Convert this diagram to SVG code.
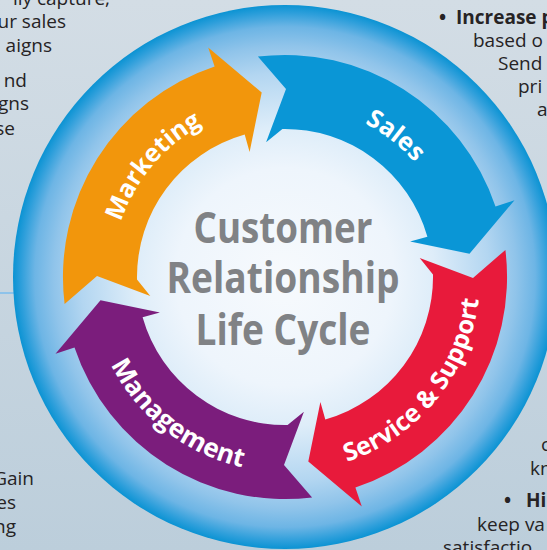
<svg xmlns="http://www.w3.org/2000/svg" xmlns:xlink="http://www.w3.org/1999/xlink" width="547" height="550" viewBox="0 0 547 550">
<defs>
<linearGradient id="bg" x1="0" y1="0" x2="0" y2="1">
<stop offset="0" stop-color="#d3dde5"/>
<stop offset="1" stop-color="#bccedb"/>
</linearGradient>
<radialGradient id="disk" cx="285" cy="277" r="272" gradientUnits="userSpaceOnUse">
<stop offset="0" stop-color="#f7fafd"/>
<stop offset="0.4" stop-color="#eef5fc"/>
<stop offset="0.55" stop-color="#deedf9"/>
<stop offset="0.75" stop-color="#b3d6f1"/>
<stop offset="0.85" stop-color="#90c4ea"/>
<stop offset="0.92" stop-color="#6db5e5"/>
<stop offset="0.97" stop-color="#2e9fdb"/>
<stop offset="1" stop-color="#0b93d3"/>
</radialGradient>
<path id="arrowShape" d="M257.9,56.6 L286.0,89.0 L266.1,142.3 L282.4,129.0 A148,148 0 0 1 427.4,236.7 L410.1,241.6 L469.5,253.7 L514.5,200.2 L495.5,206.6 A222,222 0 0 0 257.9,56.6 Z"/>
<path id="tpMarketing" d="M135.18,363.5 A173,173 0 0 1 344.17,114.43"/>
<path id="tpSales" d="M180.89,138.84 A173,173 0 0 1 444.25,344.6"/>
<path id="tpService" d="M205.69,455.14 A195,195 0 0 0 442.76,162.38"/>
<path id="tpManagement" d="M105.5,200.81 A195,195 0 0 0 402.35,432.73"/>
</defs>
<style>
.side{font-family:"Open Sans","Noto Sans",sans-serif;font-size:19px;fill:#262324;}
.sideb{font-family:"Open Sans","Noto Sans",sans-serif;font-size:19px;font-weight:700;fill:#262324;}
.label{font-family:"Open Sans","Noto Sans",sans-serif;font-weight:700;fill:#ffffff;}
.title{font-family:"Open Sans","Noto Sans",sans-serif;font-size:43px;font-weight:700;fill:#808285;}
</style>
<g id="background">
<rect x="0" y="0" width="547" height="550" fill="url(#bg)"/>
<rect x="0" y="292" width="40" height="2" fill="#8ec3ea"/>
<text class="side" x="110" y="5" text-anchor="end">lly capture,</text>
<text class="side" x="66" y="28" text-anchor="end">ur sales</text>
<text class="side" x="52" y="52" text-anchor="end">aigns</text>
<text class="side" x="27" y="87" text-anchor="end">nd</text>
<text class="side" x="29" y="110" text-anchor="end">gns</text>
<text class="side" x="15" y="135" text-anchor="end">se</text>
<text class="side" x="34" y="485" text-anchor="end">Gain</text>
<text class="side" x="16" y="509" text-anchor="end">es</text>
<text class="side" x="16" y="533" text-anchor="end">ng</text>
<text class="sideb" x="439" y="24">•</text>
<text class="sideb" x="456" y="24">Increase p</text>
<text class="side" x="473" y="47">based o</text>
<text class="side" x="498" y="70">Send</text>
<text class="side" x="518" y="93">pri</text>
<text class="side" x="537" y="116">a</text>
<text class="side" x="541" y="451">c</text>
<text class="side" x="530" y="475">kn</text>
<text class="sideb" x="504" y="507">•</text>
<text class="sideb" x="526" y="507">Hi</text>
<text class="side" x="477" y="531">keep va</text>
<text class="side" x="443" y="554">satisfactio</text>
</g>
<g id="ring">
<circle cx="285" cy="277" r="272" fill="url(#disk)"/>
</g>
<g id="marketing">
<use xlink:href="#arrowShape" href="#arrowShape" fill="#f2960c" transform="rotate(-90 285 277)"/>
<text class="label" font-size="25"><textPath xlink:href="#tpMarketing" href="#tpMarketing" startOffset="50%" text-anchor="middle">Marketing</textPath></text>
</g>
<g id="sales">
<use xlink:href="#arrowShape" href="#arrowShape" fill="#0a96d6"/>
<text class="label" font-size="25"><textPath xlink:href="#tpSales" href="#tpSales" startOffset="50%" text-anchor="middle">Sales</textPath></text>
</g>
<g id="service">
<use xlink:href="#arrowShape" href="#arrowShape" fill="#e81a3b" transform="rotate(90 285 277)"/>
<text class="label" font-size="25"><textPath xlink:href="#tpService" href="#tpService" startOffset="50%" text-anchor="middle">Service &amp; Support</textPath></text>
</g>
<g id="management">
<use xlink:href="#arrowShape" href="#arrowShape" fill="#7b1d7c" transform="rotate(180 285 277)"/>
<text class="label" font-size="26"><textPath xlink:href="#tpManagement" href="#tpManagement" startOffset="50%" text-anchor="middle">Management</textPath></text>
</g>
<g id="title">
<text class="title" x="283" y="243" text-anchor="middle" textLength="179" lengthAdjust="spacingAndGlyphs">Customer</text>
<text class="title" x="283" y="293" text-anchor="middle" textLength="233" lengthAdjust="spacingAndGlyphs">Relationship</text>
<text class="title" x="283" y="345" text-anchor="middle" textLength="175" lengthAdjust="spacingAndGlyphs">Life Cycle</text>
</g>
</svg>
